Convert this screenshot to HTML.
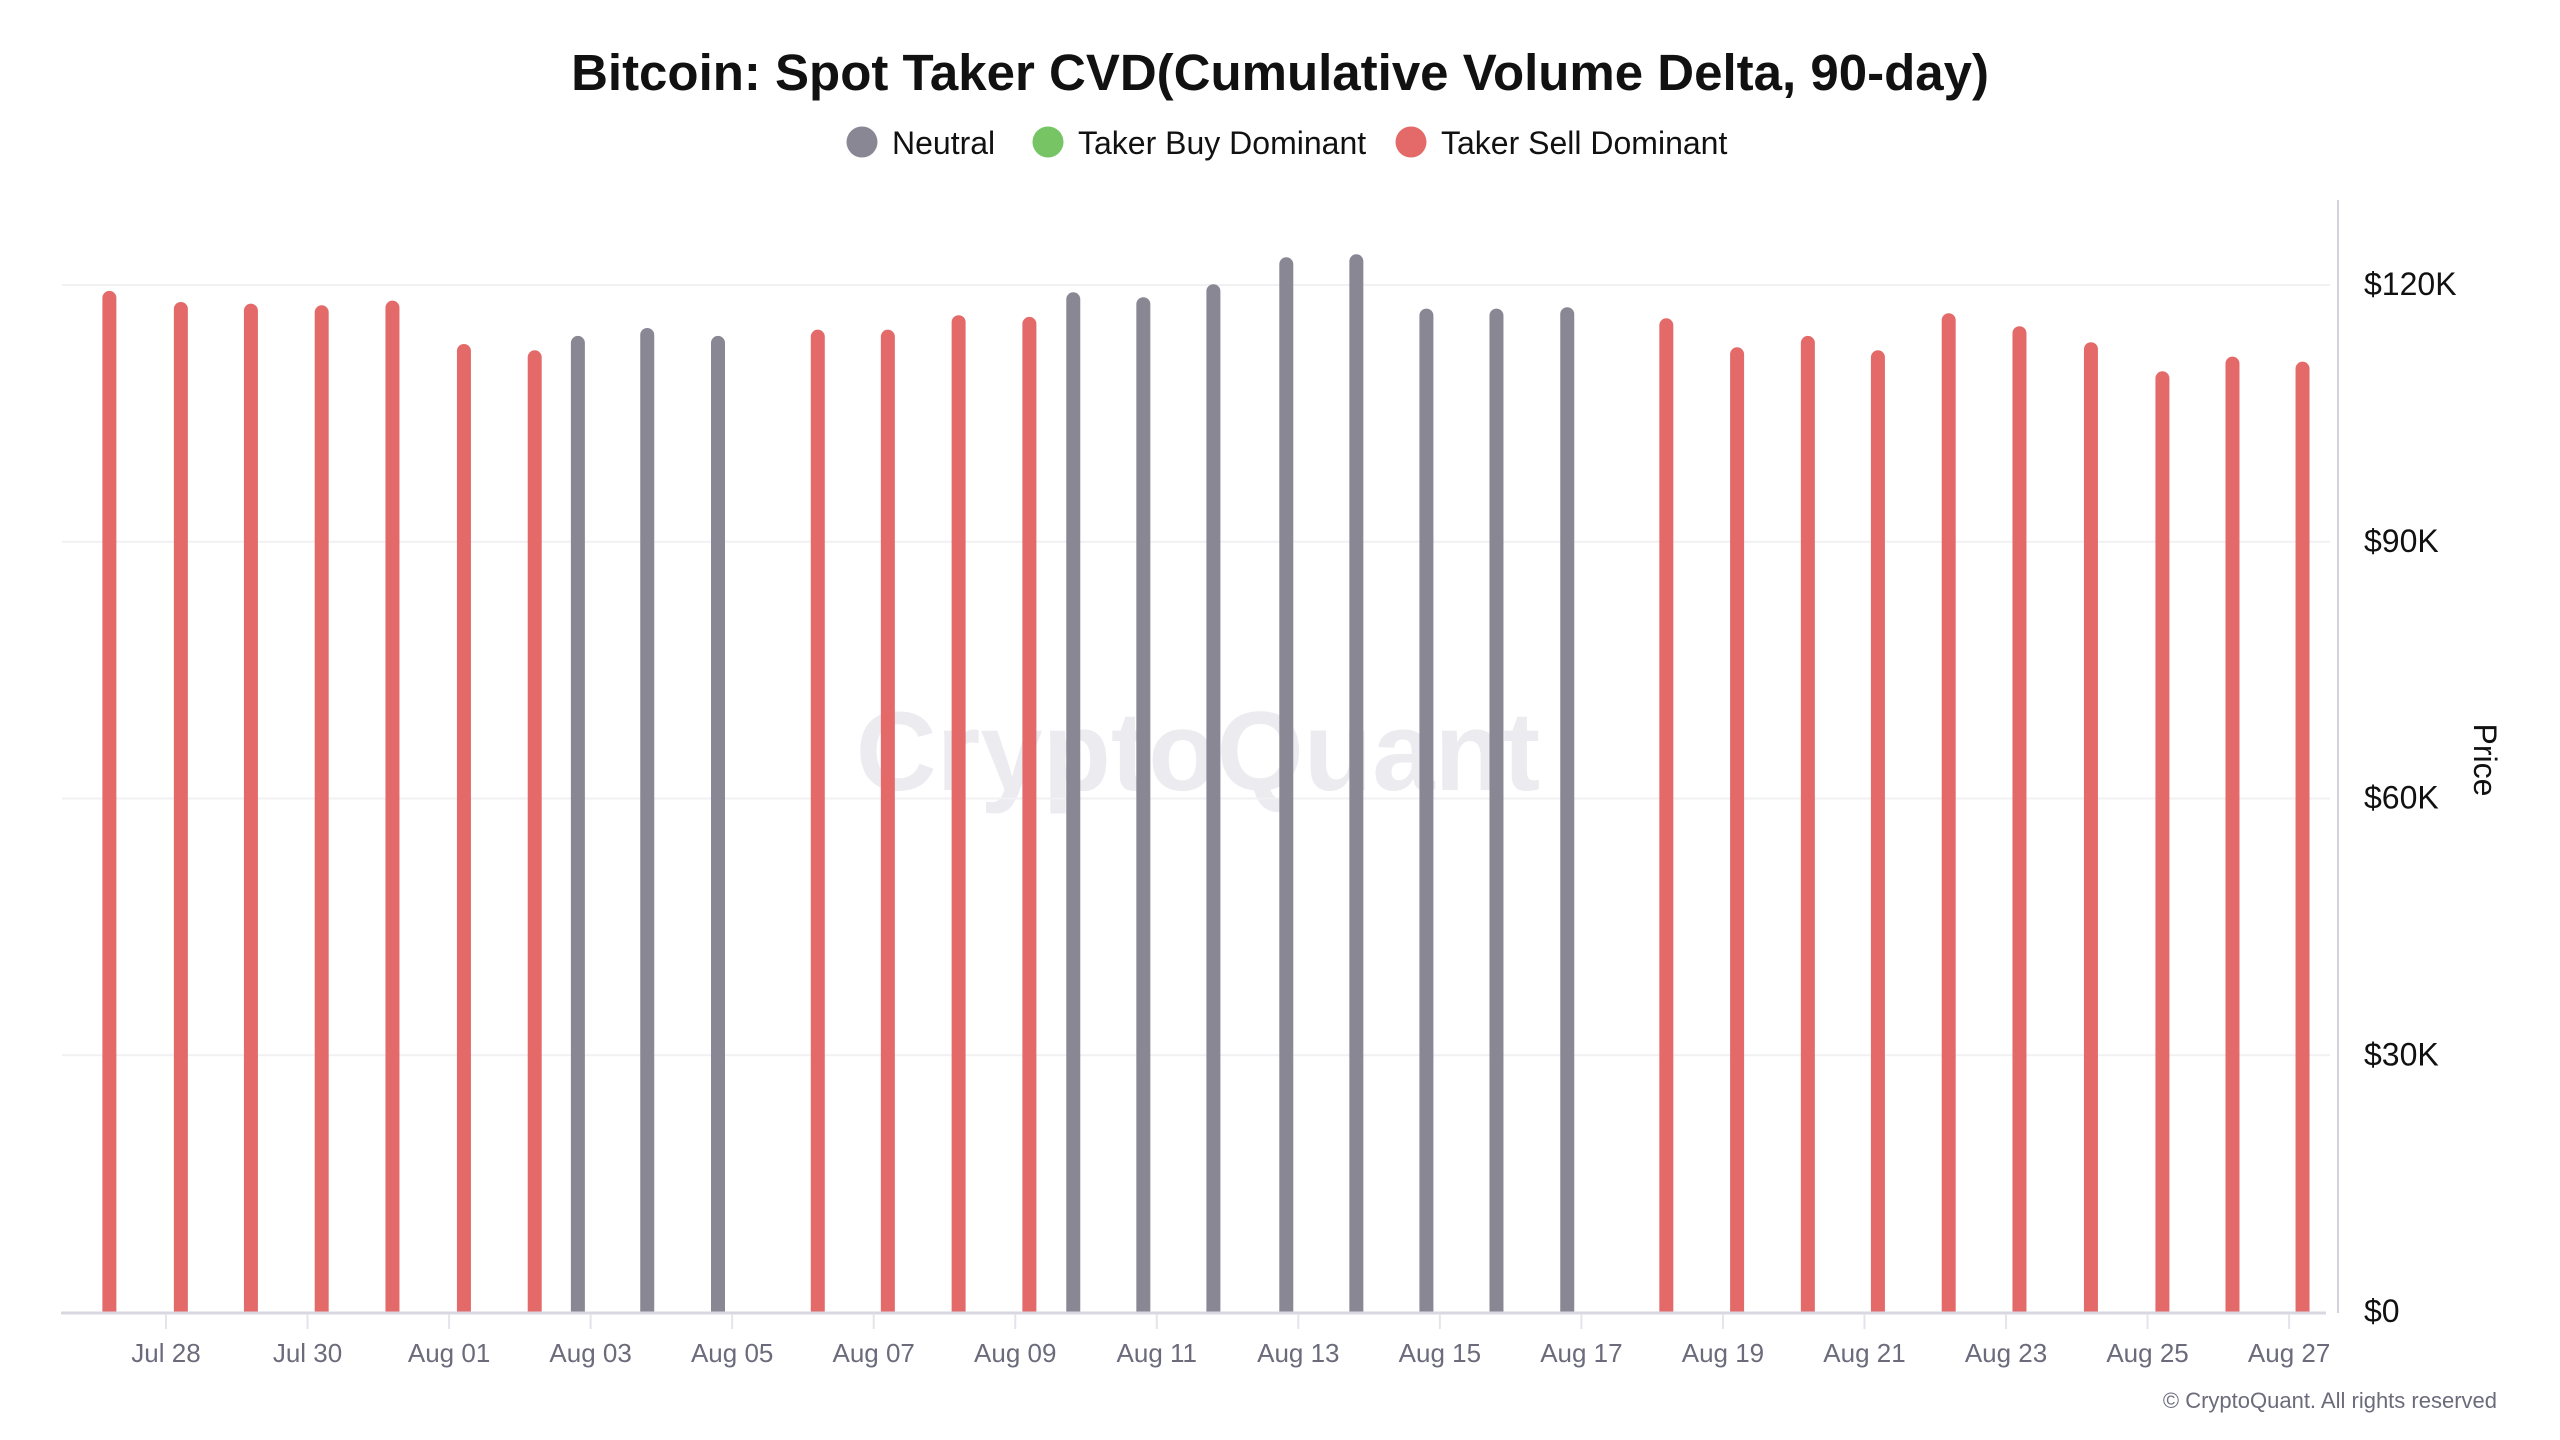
<!DOCTYPE html>
<html><head><meta charset="utf-8"><style>
html,body{margin:0;padding:0;background:#fff;width:2560px;height:1440px;overflow:hidden;font-family:"Liberation Sans",sans-serif;}
svg{display:block}
</style></head><body>
<svg width="2560" height="1440" viewBox="0 0 2560 1440" xmlns="http://www.w3.org/2000/svg">
<text x="1280" y="90" text-anchor="middle" font-size="51" font-weight="bold" fill="#111">Bitcoin: Spot Taker CVD(Cumulative Volume Delta, 90-day)</text>
<g>
<g><circle cx="862" cy="142" r="15.5" fill="#8a8794"/><text x="892" y="154" font-size="32" fill="#111">Neutral</text></g>
<g><circle cx="1048" cy="142" r="15.5" fill="#76c463"/><text x="1078" y="154" font-size="32" fill="#111">Taker Buy Dominant</text></g>
<g><circle cx="1411" cy="142" r="15.5" fill="#e46a6a"/><text x="1441" y="154" font-size="32" fill="#111">Taker Sell Dominant</text></g>
</g>
<text x="1198" y="790" text-anchor="middle" font-size="112" font-weight="bold" fill="#ecebf0">CryptoQuant</text>
<g id="grid"></g>
<g id="bars"></g>
<g id="axes"></g>
<text transform="translate(2474,760) rotate(90)" text-anchor="middle" font-size="32" fill="#111">Price</text>
<text x="2497" y="1408" text-anchor="end" font-size="22" fill="#6b6b7b">© CryptoQuant. All rights reserved</text>
</svg>
<script>
const dayOffsets=[-0.8,0.21,1.2,2.2,3.2,4.21,5.21,5.82,6.8,7.8,9.21,10.2,11.2,12.2,12.82,13.81,14.8,15.83,16.82,17.81,18.8,19.8,21.2,22.2,23.2,24.19,25.19,26.19,27.2,28.21,29.2,30.19];
const prices=[119310,118020,117820,117630,118170,113110,112370,114050,114980,114050,114780,114780,116470,116270,119150,118570,120090,123240,123590,117240,117240,117400,116110,112720,114050,112370,116700,115180,113310,109920,111630,111040];
const regimes=["sell","sell","sell","sell","sell","sell","sell","neutral","neutral","neutral","sell","sell","sell","sell","neutral","neutral","neutral","neutral","neutral","neutral","neutral","neutral","sell","sell","sell","sell","sell","sell","sell","sell","sell","sell"];
const xTickLabels=["Jul 28","Jul 30","Aug 01","Aug 03","Aug 05","Aug 07","Aug 09","Aug 11","Aug 13","Aug 15","Aug 17","Aug 19","Aug 21","Aug 23","Aug 25","Aug 27"];
const yTickValues=[0,30000,60000,90000,120000];
const yTickLabels=["$0","$30K","$60K","$90K","$120K"];
const NS="http://www.w3.org/2000/svg";
const colors={sell:"#e46a6a",neutral:"#8a8794",buy:"#76c463"};
const X0=166,DX=70.77,Y0=1312,YS=1027/120000;
function xScale(d){return X0+DX*d;}
function yScale(v){return Y0-v*YS;}
function mk(tag,attrs,parent){const e=document.createElementNS(NS,tag);for(const k in attrs)e.setAttribute(k,attrs[k]);parent.appendChild(e);return e;}
const grid=document.getElementById('grid'),bars=document.getElementById('bars'),axes=document.getElementById('axes');
yTickValues.forEach((v,i)=>{
  const y=yScale(v);
  if(v>0){const l=mk('line',{x1:62,x2:2330,y1:y,y2:y,stroke:'#f1f1f3','stroke-width':2},grid);
  
  }
  const t=mk('text',{x:2364,y:y+10,'font-size':32,fill:'#111'},axes);
  t.textContent=yTickLabels[i];
  
  
});
dayOffsets.forEach((d,i)=>{
  const x=xScale(d),y=yScale(prices[i]),w=14;
  const p=mk('path',{d:`M${x-w/2},${Y0} L${x-w/2},${y+w/2} A${w/2},${w/2} 0 0 1 ${x+w/2},${y+w/2} L${x+w/2},${Y0} Z`,fill:colors[regimes[i]]},bars);
  
  
});
const base=mk('line',{x1:61,x2:2326,y1:Y0+1,y2:Y0+1,stroke:'#d8d8e2','stroke-width':3},axes);


const ra=mk('line',{x1:2338,x2:2338,y1:200,y2:1313,stroke:'#d3d3dd','stroke-width':2},axes);


xTickLabels.forEach((lab,i)=>{
  const x=xScale(i*2);
  const tk=mk('line',{x1:x,x2:x,y1:Y0+2,y2:Y0+17,stroke:'#e4e4ea','stroke-width':2},axes);
  
  
  const t=mk('text',{x:x,y:1362,'text-anchor':'middle','font-size':26,fill:'#6b6b7b'},axes);
  t.textContent=lab;
  
  
});
</script>
</body></html>
